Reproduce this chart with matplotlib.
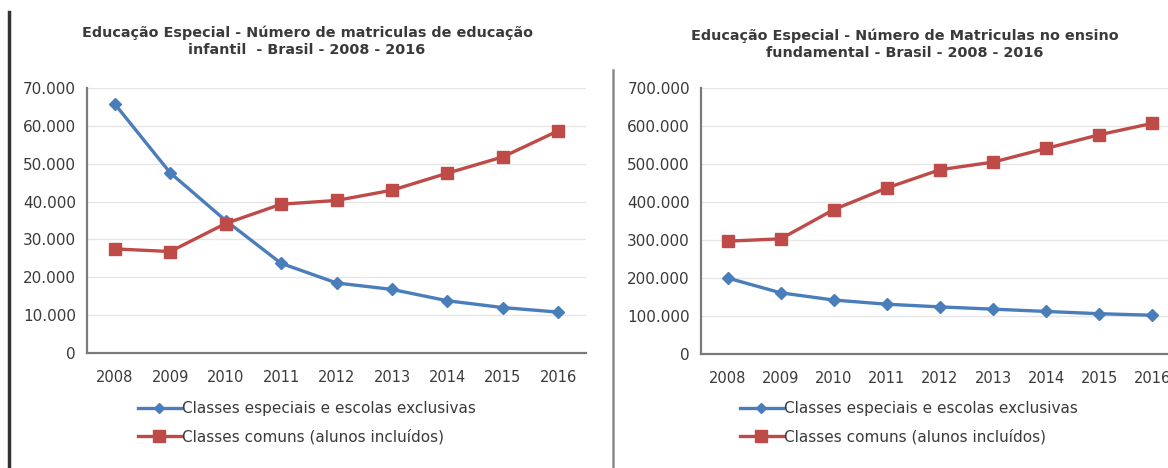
import matplotlib.pyplot as plt
from matplotlib.lines import Line2D
from matplotlib.ticker import FuncFormatter

plt.rcParams['font.family'] = ['DejaVu Sans']

# Data
anos = ['2008', '2009', '2010', '2011', '2012', '2013', '2014', '2015', '2016']

infantil_exclusivas = [65800, 47600, 35000, 23700, 18500, 16800, 13800, 12000, 10800]
infantil_comuns = [27500, 26800, 34200, 39300, 40300, 43000, 47500, 51800, 58700]

fundamental_exclusivas = [200000, 161000, 142000, 131000, 124000, 118000, 112000, 106000, 102000]
fundamental_comuns = [297000, 303000, 380000, 437000, 485000, 505000, 541000, 577000, 607000]

titulo_infantil = "Educação Especial - Número de matriculas de educação\ninfantil  - Brasil - 2008 - 2016"
titulo_fundamental = "Educação Especial - Número de Matriculas no ensino\nfundamental - Brasil - 2008 - 2016"
rotulo_exclusivas = "Classes especiais e escolas exclusivas"
rotulo_comuns = "Classes comuns (alunos incluídos)"

AZUL = '#4A7EBB'
VERMELHO = '#BE4B48'
TEXTO = '#3a3a3a'

W, H = 1168, 468
fig = plt.figure(figsize=(W / 100, H / 100), dpi=100)


def px(x0, y0, x1, y1):
    # pixel box (top-left origin) -> figure fraction rect
    return [x0 / W, 1 - y1 / H, (x1 - x0) / W, (y1 - y0) / H]


def milhar(v, pos):
    return f"{int(v):,}".replace(',', '.')


def desenha(ax, exclusivas, comuns, ymax, passo):
    x = range(len(anos))
    ax.plot(x, exclusivas, color=AZUL, lw=2.4, marker='D', ms=6,
            markerfacecolor=AZUL, markeredgecolor=AZUL, zorder=3)
    ax.plot(x, comuns, color=VERMELHO, lw=2.4, marker='s', ms=9,
            markerfacecolor=VERMELHO, markeredgecolor=VERMELHO, zorder=3)
    ax.set_xlim(-0.5, len(anos) - 0.5)
    ax.set_ylim(0, ymax)
    ax.set_yticks(range(0, ymax + 1, passo))
    ax.yaxis.set_major_formatter(FuncFormatter(milhar))
    ax.set_xticks(list(x))
    ax.set_xticklabels(anos)
    ax.grid(axis='y', color='#e6e6e6', lw=1)
    ax.set_axisbelow(True)
    for s in ['top', 'right']:
        ax.spines[s].set_visible(False)
    for s in ['left', 'bottom']:
        ax.spines[s].set_color('#7a7a7a')
        ax.spines[s].set_linewidth(1.6)
    ax.tick_params(length=0, labelsize=11, colors=TEXTO, pad=8)
    ax.tick_params(axis='x', labelsize=10.5, pad=12)


ax1 = fig.add_axes(px(87, 88, 586, 353))
desenha(ax1, infantil_exclusivas, infantil_comuns, 70000, 10000)

ax2 = fig.add_axes(px(701, 88, 1179, 354))
desenha(ax2, fundamental_exclusivas, fundamental_comuns, 700000, 100000)

fig.text(307 / W, 1 - 41 / H, titulo_infantil, ha='center', va='center',
         fontsize=10.4, fontweight='bold', color=TEXTO, linespacing=1.25)
fig.text(905 / W, 1 - 44 / H, titulo_fundamental, ha='center', va='center',
         fontsize=10.4, fontweight='bold', color=TEXTO, linespacing=1.25)

handles = [
    Line2D([], [], color=AZUL, lw=2.4, marker='D', ms=5, markeredgecolor=AZUL),
    Line2D([], [], color=VERMELHO, lw=2.4, marker='s', ms=8, markeredgecolor=VERMELHO),
]
for ax, lx in [(ax1, 138), (ax2, 740)]:
    ax.legend(handles, [rotulo_exclusivas, rotulo_comuns], loc='upper left',
              bbox_to_anchor=(lx / W, 1 - 401 / H), bbox_transform=fig.transFigure,
              frameon=False, fontsize=11, handlelength=2.8, handletextpad=0.1,
              labelspacing=0.85, borderpad=0, borderaxespad=0, labelcolor=TEXTO)

# page rules around the two charts
fig.add_artist(Line2D([9 / W, 9 / W], [0, 1 - 12 / H], color='#333333', lw=2.5))
fig.add_artist(Line2D([613 / W, 613 / W], [0, 1 - 70 / H], color='#8a8a8a', lw=1.8))

fig.savefig('out.png', dpi=100)
